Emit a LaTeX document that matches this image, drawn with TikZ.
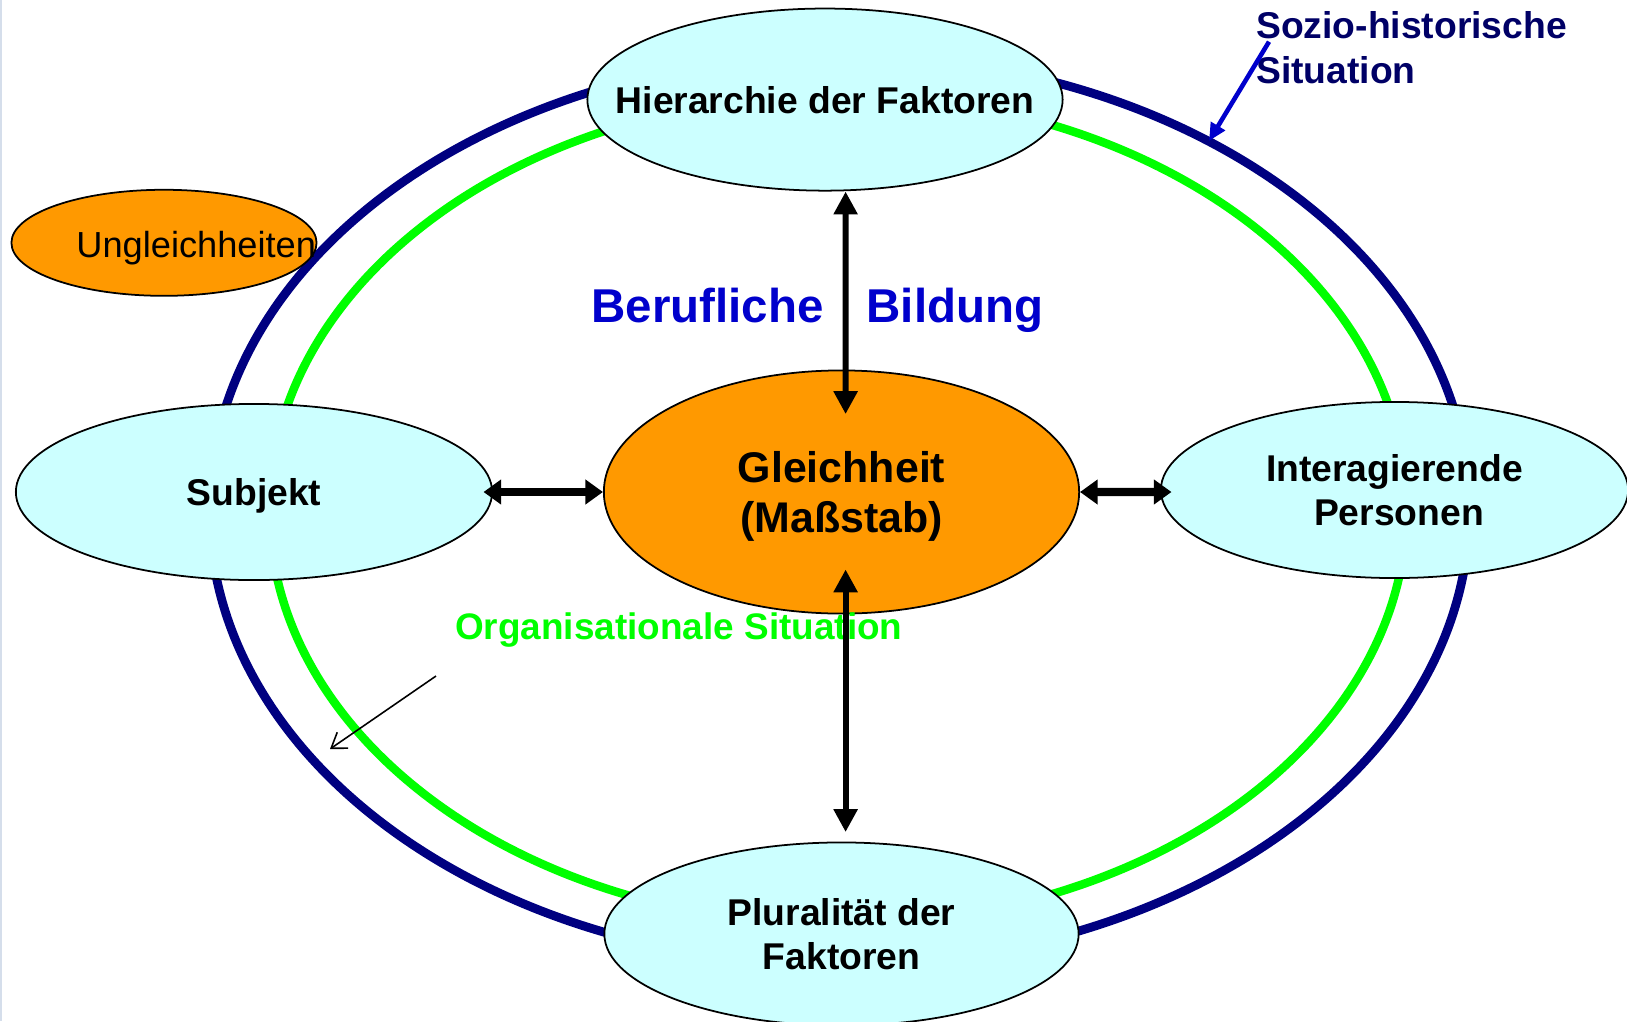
\documentclass[tikz,border=0pt]{standalone}
\usepackage{fontspec}
\setmainfont{Liberation Sans}
\usetikzlibrary{shapes, arrows.meta, positioning}

\definecolor{hellcyan}{HTML}{CCFFFF}
\definecolor{orangefill}{HTML}{FF9900}
\definecolor{ringnavy}{HTML}{000080}
\definecolor{ringgreen}{HTML}{00FF00}
\definecolor{titleblue}{HTML}{0000CC}
\definecolor{soziotext}{HTML}{000066}
\definecolor{randlinie}{HTML}{D5DEEB}

\begin{document}
\begin{tikzpicture}[x=0.01cm, y=-0.01cm]
        \tikzstyle{factor}=[ellipse, draw, line width=0.5pt, fill=hellcyan, inner sep=0, text depth=0pt, align=center, font=\bfseries\fontsize{10.6}{12.6}\selectfont];
        \tikzstyle{massstab}=[ellipse, draw, line width=0.5pt, fill=orangefill, inner sep=0, text depth=0pt, align=center, font=\bfseries\fontsize{12.2}{14.2}\selectfont];
        \tikzstyle{titel}=[inner sep=0, text=titleblue, font=\bfseries\fontsize{13.5}{16}\selectfont];
        \tikzstyle{vpfeil}=[line width=1.7pt, {Triangle[length=6.5pt,width=6.5pt]}-{Triangle[length=6.5pt,width=6.5pt]}];
        \tikzstyle{hpfeil}=[line width=2.3pt, {Triangle[length=5pt,width=6.8pt]}-{Triangle[length=5pt,width=6.8pt]}];

        \useasboundingbox (0,0) rectangle (1627,1021);
        \draw [randlinie, line width=0.6pt] (1,0) -- (1,1021);

        \draw [ringnavy, line width=2.5pt] (839.5,510) ellipse [x radius=630, y radius=455];
        \draw [ringgreen, line width=2.4pt] (838,509.5) ellipse [x radius=568.6, y radius=415];

        \node [ellipse, draw, line width=0.5pt, fill=orangefill, minimum width=3.05cm, minimum height=1.06cm] (ungl) at (164,242.8) {};
        \node [inner sep=0, anchor=west, font=\fontsize{10.3}{12}\selectfont] (ungltext) at (75.7,248) {Ungleichheiten};

        \node [factor, inner xsep=-0.5cm, minimum width=4.75cm, minimum height=1.82cm] (hier) at (825,99.6) {Hierarchie der Faktoren};
        \node [factor, minimum width=4.76cm, minimum height=1.76cm] (subj) at (254,492) {Subjekt};
        \node [factor, minimum width=4.67cm, minimum height=1.76cm] (inter) at (1394.5,490) {Interagierende\\\hspace{0.09cm}Personen};
        \node [factor, minimum width=4.74cm, minimum height=1.83cm] (plur) at (841.5,934) {Pluralität der\\Faktoren};
        \node [massstab, minimum width=4.75cm, minimum height=2.43cm] (gleich) at (841.5,492) {Gleichheit\\(Maßstab)};

        \node [titel] (beruf) at (707.6,306) {Berufliche};
        \node [titel, base right=0.415cm of beruf] (bildung) {Bildung};
        \node [inner sep=0, anchor=west, text=ringgreen, font=\bfseries\fontsize{10.5}{12.6}\selectfont] (orga) at (454.5,630) {Organisationale Situation};
        \node [inner sep=0, anchor=west, align=left, text=soziotext, font=\bfseries\fontsize{10.6}{13}\selectfont] (sozio) at (1255.5,47.7) {Sozio-historische\\Situation};

        \coordinate (sozioring) at (1209,141);
        \coordinate (orgaring) at (330,749);

        \draw [vpfeil] ([xshift=2.06mm]hier.south) -- ([xshift=0.41mm, yshift=-4.45mm]gleich.north);
        \draw [vpfeil] ([xshift=0.41mm, yshift=4.5mm]gleich.south) -- ([xshift=0.41mm, yshift=0.95mm]plur.north);
        \draw [hpfeil] ([xshift=-0.95mm]subj.east) -- (gleich.west);
        \draw [hpfeil] (gleich.east) -- ([xshift=1.15mm, yshift=-0.2mm]inter.west);
        \draw [titleblue, line width=1.3pt, -{Triangle[length=5pt,width=4.5pt]}] ([xshift=1.35mm, yshift=0.6mm]sozio.west) -- (sozioring);
        \draw [line width=0.45pt, -{Straight Barb[length=4pt,width=5.5pt]}] ([xshift=-1.85mm, yshift=-4.6mm]orga.west) -- (orgaring);
\end{tikzpicture}
\end{document}
